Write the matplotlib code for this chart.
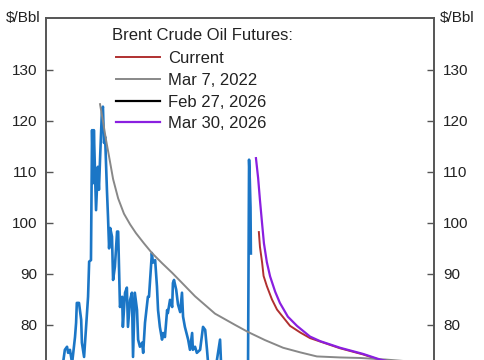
import matplotlib
matplotlib.use("Agg")
import matplotlib.pyplot as plt

plt.rcParams['font.family'] = ['Liberation Sans', 'DejaVu Sans']

# Brent spot price (decimal year, $/bbl)
spot_t = [2020.85, 2021.04, 2021.12, 2021.18, 2021.21, 2021.26, 2021.32, 2021.40, 2021.43, 2021.45,
          2021.51, 2021.57, 2021.59, 2021.65, 2021.70, 2021.76, 2021.79, 2021.84, 2021.87, 2021.90,
          2021.92, 2021.98, 2022.03, 2022.06, 2022.09, 2022.14, 2022.17, 2022.20, 2022.23, 2022.28,
          2022.31, 2022.34, 2022.37, 2022.42, 2022.45, 2022.50, 2022.56, 2022.59, 2022.64, 2022.70,
          2022.72, 2022.78, 2022.83, 2022.86, 2022.92, 2022.97, 2023.00, 2023.05, 2023.11, 2023.14,
          2023.19, 2023.25, 2023.28, 2023.33, 2023.41, 2023.44, 2023.52, 2023.55, 2023.61, 2023.66,
          2023.69, 2023.74, 2023.80, 2023.83, 2023.88, 2023.94, 2023.96, 2024.02, 2024.08, 2024.10,
          2024.13, 2024.19, 2024.24, 2024.30, 2024.35, 2024.38, 2024.43, 2024.52, 2024.57, 2024.63,
          2024.65, 2024.71, 2024.76, 2024.85, 2024.93, 2024.99, 2025.04, 2025.07, 2025.18, 2025.29,
          2025.40, 2025.43, 2025.62, 2025.81, 2026.01, 2026.17, 2026.20, 2026.22, 2026.24, 2026.25]
spot_v = [70.0, 71.0, 75.1, 75.7, 74.5, 75.1, 72.5, 77.6, 80.4, 84.3,
          84.3, 81.0, 76.5, 73.7, 79.0, 85.5, 92.4, 92.7, 118.2, 107.8,
          118.2, 102.5, 111.0, 106.5, 112.4, 121.6, 122.8, 115.7, 116.9, 106.5,
          101.2, 95.0, 99.0, 97.3, 88.8, 91.4, 98.3, 98.3, 83.5, 85.5,
          79.6, 86.3, 87.3, 79.6, 84.9, 86.3, 73.7, 86.3, 82.9, 77.1,
          75.7, 76.5, 74.5, 80.4, 85.5, 85.5, 94.1, 92.2, 92.7, 87.5,
          82.9, 79.6, 77.1, 78.4, 77.6, 82.9, 82.3, 84.9, 83.5, 88.2,
          88.8, 86.9, 84.0, 82.5, 86.3, 81.6, 79.6, 77.1, 75.1, 78.4,
          75.1, 75.7, 74.5, 75.1, 79.6, 79.0, 75.1, 72.5, 70.5, 72.0,
          77.1, 72.0, 68.0, 66.0, 69.0, 70.0, 112.4, 108.5, 103.0, 94.0]

# futures curves
mar22_t = [2022.09, 2022.17, 2022.25, 2022.34, 2022.45, 2022.59, 2022.75, 2022.92, 2023.08, 2023.30,
           2023.52, 2023.80, 2024.08, 2024.30, 2024.71, 2025.26, 2025.81, 2026.17, 2026.64, 2027.14,
           2027.61, 2028.07, 2028.71, 2029.26, 2029.95, 2030.64]
mar22_v = [123.3, 120.0, 116.5, 113.0, 108.6, 104.8, 101.8, 99.7, 98.0, 96.0,
           94.1, 92.1, 90.2, 88.6, 85.6, 82.2, 80.0, 78.6, 77.0, 75.5,
           74.6, 73.8, 73.6, 73.5, 73.2, 72.8]

feb26_t = [2026.30, 2026.60, 2027.00, 2028.00, 2029.00, 2030.00]
feb26_v = [72.5, 71.0, 70.0, 69.0, 68.5, 68.2]

mar26_t = [2026.39, 2026.45, 2026.50, 2026.56, 2026.61, 2026.69, 2026.78, 2026.92, 2027.05, 2027.27,
           2027.52, 2027.88, 2028.16, 2028.71, 2029.34, 2029.81, 2030.36]
mar26_v = [112.7, 108.8, 104.5, 99.8, 96.0, 92.3, 89.5, 86.5, 84.3, 81.6,
           79.8, 77.7, 76.8, 75.5, 74.3, 73.2, 72.3]

cur_t = [2026.47, 2026.50, 2026.56, 2026.60, 2026.69, 2026.83, 2026.97, 2027.33, 2027.61, 2027.88,
         2028.71, 2029.34, 2029.81, 2030.36]
cur_v = [98.2, 95.3, 92.2, 89.6, 87.6, 85.0, 83.0, 79.8, 78.5, 77.4,
         75.4, 74.2, 73.1, 72.2]

yticks = [80, 90, 100, 110, 120, 130]

fig = plt.figure(figsize=(4.85, 3.6), dpi=100)
ax = fig.add_axes([46 / 485, 0.0, 388 / 485, 1 - 18 / 360])

ax.plot(spot_t, spot_v, color='#1b76c6', lw=1.9)
ax.plot(cur_t, cur_v, color='#b03030', lw=1.4, label='Current')
ax.plot(mar22_t, mar22_v, color='#888888', lw=1.4, label='Mar 7, 2022')
ax.plot(feb26_t, feb26_v, color='black', lw=1.6, label='Feb 27, 2026')
ax.plot(mar26_t, mar26_v, color='#8a1fe0', lw=1.6, label='Mar 30, 2026')

ax.set_xlim(2020.6, 2031.3)
ax.set_ylim(73.1, 140.2)
ax.set_yticks(yticks)
ax.set_xticks([])
ax.tick_params(axis='y', direction='in', length=5, width=1, labelsize=11, pad=6.5,
               colors='#555555', labelcolor='#222222', right=True, labelright=True)

for side in ['left', 'right', 'top']:
    ax.spines[side].set_color('#555555')
    ax.spines[side].set_linewidth(1.4)
ax.spines['bottom'].set_visible(False)

# legend title drawn as its own text so the gap to the rows matches
fig.text(112 / 485, 1 - 35 / 360, 'Brent Crude Oil Futures:', ha='left', va='center',
         fontsize=12, color='#222222')
leg = ax.legend(loc='upper left', bbox_to_anchor=(0.180, 0.903), frameon=False,
                fontsize=12, handlelength=2.64, handletextpad=0.48,
                labelspacing=0.40, borderpad=0.0, borderaxespad=0.0)
for t in leg.get_texts():
    t.set_color('#222222')

fig.text(40 / 485, 1 - 18 / 360, r'\$/Bbl', ha='right', va='center', fontsize=11, color='#222222')
fig.text(440 / 485, 1 - 18 / 360, r'\$/Bbl', ha='left', va='center', fontsize=11, color='#222222')

fig.savefig('out.png', dpi=100)
